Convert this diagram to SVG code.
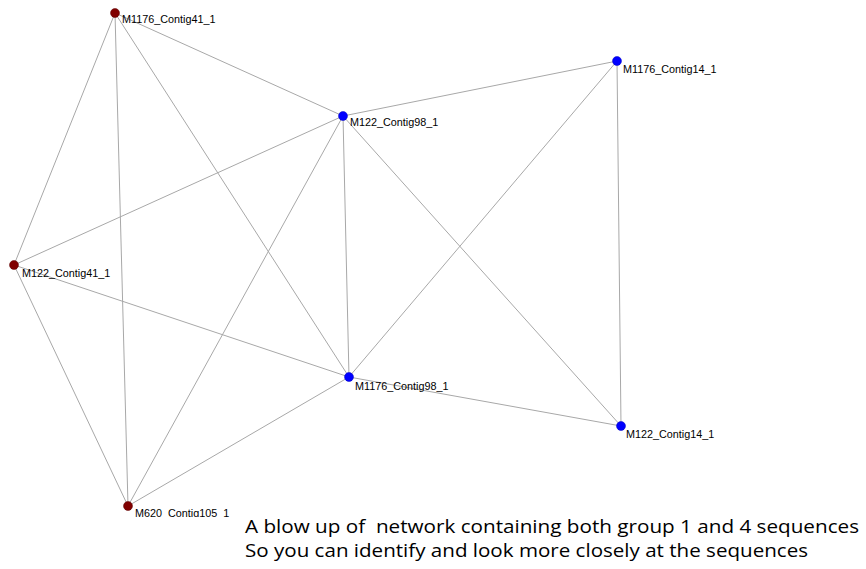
<svg xmlns="http://www.w3.org/2000/svg" width="866" height="569" viewBox="0 0 866 569">
<style>
.e{stroke:#a8a8a8;stroke-width:1;fill:none}
.r{fill:#800000;stroke:#5a0000;stroke-width:0.5}
.b{fill:#0000ff;stroke:#0000c0;stroke-width:0.5}
.l{font-family:"Liberation Sans",Arial,sans-serif;font-size:10.8px;fill:#000}
.c{font-family:"Open Sans","Liberation Sans",sans-serif;font-size:18.5px;fill:#000;white-space:pre}
</style>
<defs><clipPath id="clipBottom"><rect x="0" y="0" width="866" height="517"/></clipPath></defs>
<rect width="866" height="569" fill="#fff"/>
<g id="connectors">
<line class="e" x1="115" y1="13" x2="343" y2="116"/>
<line class="e" x1="115" y1="13" x2="14" y2="265"/>
<line class="e" x1="115" y1="13" x2="349" y2="377"/>
<line class="e" x1="115" y1="13" x2="128" y2="506"/>
<line class="e" x1="343" y1="116" x2="617" y2="61"/>
<line class="e" x1="343" y1="116" x2="14" y2="265"/>
<line class="e" x1="343" y1="116" x2="349" y2="377"/>
<line class="e" x1="343" y1="116" x2="128" y2="506"/>
<line class="e" x1="343" y1="116" x2="621" y2="426"/>
<line class="e" x1="617" y1="61" x2="349" y2="377"/>
<line class="e" x1="617" y1="61" x2="621" y2="426"/>
<line class="e" x1="14" y1="265" x2="349" y2="377"/>
<line class="e" x1="14" y1="265" x2="128" y2="506"/>
<line class="e" x1="349" y1="377" x2="128" y2="506"/>
<line class="e" x1="349" y1="377" x2="621" y2="426"/>
</g>
<g id="n_M1176_Contig41_1"><circle class="r" cx="115" cy="13" r="4.5"/><text class="l" x="122" y="23">M1176_Contig41_1</text></g>
<g id="n_M122_Contig98_1"><circle class="b" cx="343" cy="116" r="4.5"/><text class="l" x="350" y="126">M122_Contig98_1</text></g>
<g id="n_M1176_Contig14_1"><circle class="b" cx="617" cy="61" r="4.5"/><text class="l" x="623" y="73">M1176_Contig14_1</text></g>
<g id="n_M122_Contig41_1"><circle class="r" cx="14" cy="265" r="4.5"/><text class="l" x="22" y="277">M122_Contig41_1</text></g>
<g id="n_M1176_Contig98_1"><circle class="b" cx="349" cy="377" r="4.5"/><text class="l" x="355" y="390">M1176_Contig98_1</text></g>
<g id="n_M122_Contig14_1"><circle class="b" cx="621" cy="426" r="4.5"/><text class="l" x="626" y="438">M122_Contig14_1</text></g>
<g id="n_M620_Contig105_1"><circle class="r" cx="128" cy="506" r="4.5"/><text class="l" x="135" y="517" clip-path="url(#clipBottom)">M620_Contig105_1</text></g>
<g id="caption">
<text class="c" x="245" y="533" textLength="614" lengthAdjust="spacingAndGlyphs">A blow up of  network containing both group 1 and 4 sequences</text>
<text class="c" x="245" y="557" textLength="563" lengthAdjust="spacingAndGlyphs">So you can identify and look more closely at the sequences</text>
</g>
</svg>
